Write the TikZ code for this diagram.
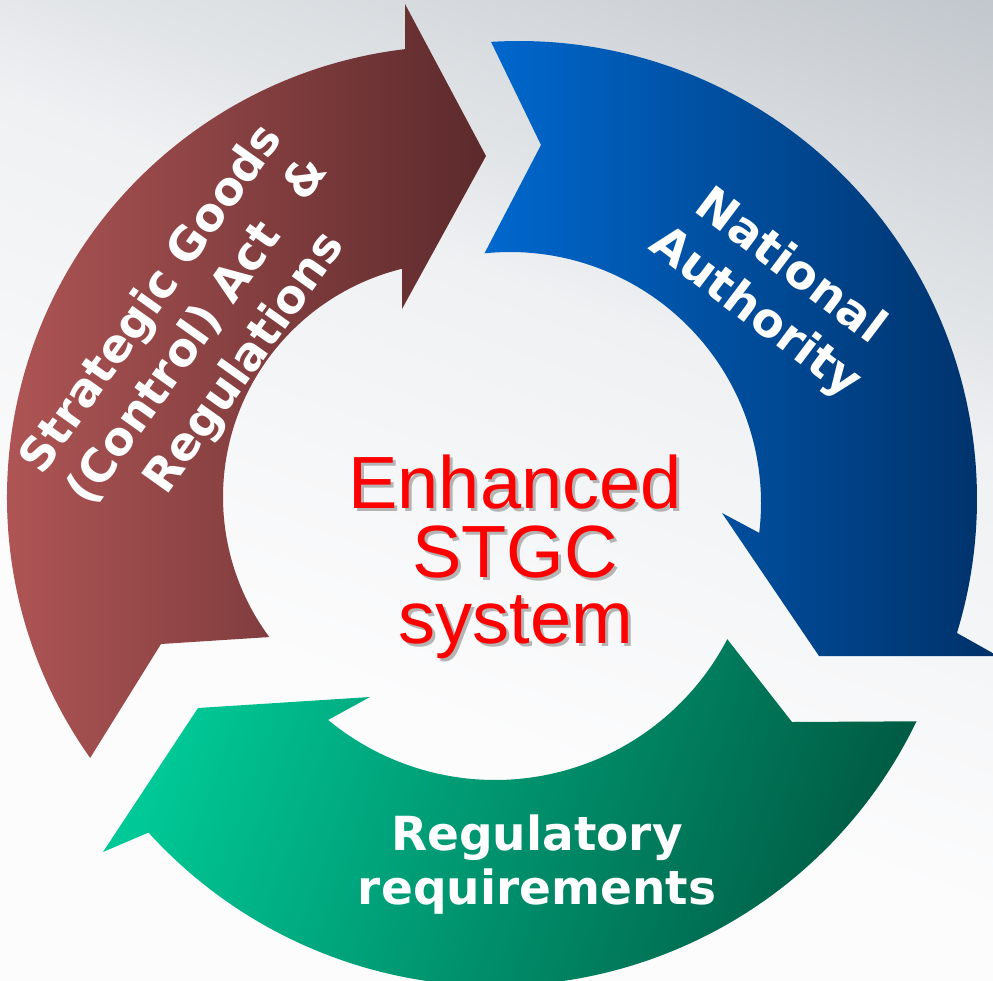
\documentclass[tikz,border=0pt]{standalone}
\usepackage{fontspec}
\setmainfont{DejaVu Sans}
\newfontfamily\centerfont{Liberation Sans}
\usetikzlibrary{calc}
\definecolor{maroonL}{HTML}{B95A5A}
\definecolor{maroonR}{HTML}{5C2A2C}
\definecolor{blueL}{HTML}{0068CE}
\definecolor{blueR}{HTML}{003168}
\definecolor{greenL}{HTML}{00C896}
\definecolor{greenR}{HTML}{005C44}
\definecolor{ctrred}{HTML}{FF0000}
\definecolor{shadowgray}{HTML}{B4B4B4}
\definecolor{bgA}{HTML}{FCFCFD}
\definecolor{bgB}{HTML}{F5F6F7}
\definecolor{bgC}{HTML}{F0F1F3}
\definecolor{bgD}{HTML}{E2E5E8}
\definecolor{bgE}{HTML}{D5D9DD}
\definecolor{bgF}{HTML}{C2C7CD}
\pgfdeclareverticalshading{bgshade}{100bp}{color(0bp)=(bgA); color(38bp)=(bgA); color(50bp)=(bgB); color(60bp)=(bgC); color(66bp)=(bgD); color(73bp)=(bgE); color(82bp)=(bgF); color(100bp)=(bgF)}
\newcommand\shadowtext[1]{\makebox[0pt][l]{\hspace{3pt}\raisebox{-3pt}{\textcolor{shadowgray}{#1}}}#1}
\begin{document}
\begin{tikzpicture}[x=1pt,y=-1pt,
  lbl/.style={text=white, font=\bfseries\fontsize{47}{56}\selectfont, inner sep=0pt, anchor=base},
  sglbl/.style={lbl, font=\bfseries\fontsize{46}{56}\selectfont, rotate=54.5},
  ctr/.style={text=ctrred, font=\centerfont\fontsize{74}{80}\selectfont, inner sep=0pt, anchor=base}]
\useasboundingbox (0,0) rectangle (993,980);
\shade[shading=bgshade, shading angle=-20] (0,0) rectangle (993,980);

% maroon arrow
\shade[left color=maroonL, right color=maroonR]
  ($(458,497)+(144.65:451)$) arc[start angle=144.65, end angle=263.28, radius=451]
  -- (405,4) -- (486,156) -- (402,309)
  -- ($(458,497)+(256.26:235)$) arc[start angle=256.26, end angle=143.42, radius=235]
  -- (161,644) -- cycle;

% blue arrow
\shade[left color=blueL, right color=blueR]
  ($(519,499)+(266.5:458)$) arc[start angle=266.5, end angle=377.01, radius=458]
  -- (998,656) -- (819,656) -- (722,513)
  -- ($(510,503)+(366.84:251)$) arc[start angle=366.84, end angle=264.16, radius=251]
  -- (541,145) -- cycle;

% green arrow
\shade[left color=greenL, right color=greenR, shading angle=70]
  ($(495,518)+(25.75:468)$) arc[start angle=25.75, end angle=137.77, radius=468]
  -- (103,852) -- (198,708) -- (370,697)
  -- ($(495,518)+(129.58:262)$) arc[start angle=129.58, end angle=27.55, radius=262]
  -- (792,722) -- cycle;

% centre text
\node[ctr] (enh) at (515,508) {\shadowtext{Enhanced}};
\node[ctr] (stgc) at (515,577) {\shadowtext{STGC}};
\node[ctr] (sys) at (516,643) {\shadowtext{system}};

% labels
\node[lbl] (reg1) at (537,850) {Regulatory};
\node[lbl] (reg2) at (537,904) {requirements};
\node[lbl, rotate=-37] (nat1) at (782,278) {National};
\node[lbl, rotate=-37] (nat2) at (747,324) {Authority};
\node[sglbl] (sg1) at (163,307) {Strategic Goods};
\node[sglbl] (sg2) at (209,339) {(Control) Act\hspace{40pt}\&};
\node[sglbl] (sg3) at (256,371) {Regulations};
\end{tikzpicture}
\end{document}
